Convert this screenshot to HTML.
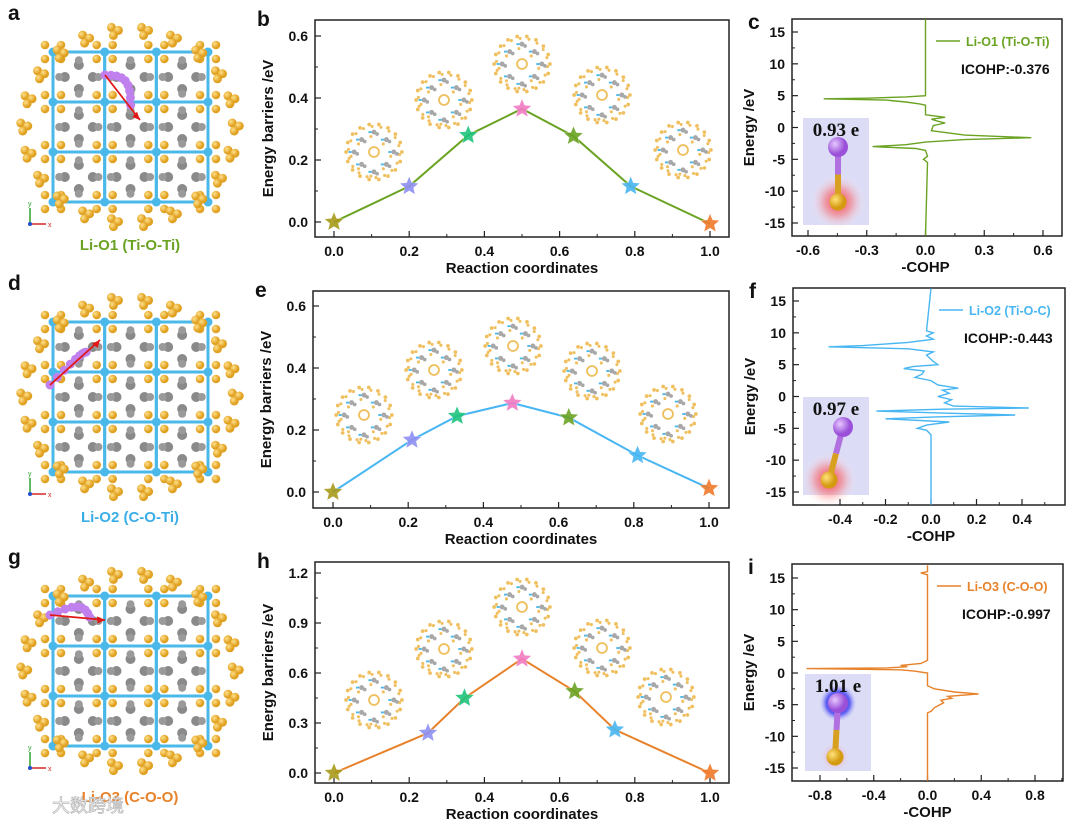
<!DOCTYPE html>
<html><head><meta charset="utf-8"><style>
body{margin:0;background:#fff;}
svg{display:block;font-family:"Liberation Sans",Arial,sans-serif;}
</style></head><body>
<svg id="fig" width="1080" height="826" viewBox="0 0 1080 826">
<defs>
<radialGradient id="redGlow"><stop offset="0" stop-color="#ff2020" stop-opacity="0.9"/><stop offset="0.5" stop-color="#ff6060" stop-opacity="0.45"/><stop offset="1" stop-color="#ffffff" stop-opacity="0"/></radialGradient>
<radialGradient id="blueGlow"><stop offset="0" stop-color="#1010e0" stop-opacity="1"/><stop offset="0.6" stop-color="#3030f0" stop-opacity="0.7"/><stop offset="1" stop-color="#ffffff" stop-opacity="0"/></radialGradient>
<radialGradient id="liBall" cx="0.35" cy="0.35"><stop offset="0" stop-color="#e6c8ff"/><stop offset="1" stop-color="#9a50d8"/></radialGradient>
<radialGradient id="oBall" cx="0.35" cy="0.35"><stop offset="0" stop-color="#ffe27a"/><stop offset="1" stop-color="#d49a10"/></radialGradient>
<radialGradient id="gBall" cx="0.35" cy="0.35"><stop offset="0" stop-color="#ffe08a"/><stop offset="1" stop-color="#e0a020"/></radialGradient>
</defs>
</svg>
<script>
// ---- energy barrier data ----
const coordsB=[0,0.2,0.357,0.5,0.637,0.789,1.0];
const energyB=[0,0.115,0.28,0.365,0.277,0.115,-0.005];
const coordsE=[0,0.21,0.33,0.477,0.627,0.81,1.0];
const energyE=[0,0.168,0.245,0.287,0.24,0.118,0.012];
const coordsH=[0,0.25,0.347,0.5,0.64,0.747,1.0];
const energyH=[0,0.24,0.45,0.685,0.49,0.26,0];
const xTicksEnergy=["0.0","0.2","0.4","0.6","0.8","1.0"];
const yTicksBE=["0.0","0.2","0.4","0.6"];
const yTicksH=["0.0","0.3","0.6","0.9","1.2"];
const starColors=["#a89a1a","#8e90f2","#1fc47c","#f27cc4","#6aa322","#48b6f2","#f07a2a"];
// ---- COHP data ----
const eC=[17,5.0,4.8,4.6,4.5,4.3,4.0,3.7,3.5,2.0,1.6,1.3,1.0,0.7,0.3,-0.5,-1.2,-1.6,-1.9,-2.3,-2.7,-3.0,-3.3,-3.6,-4.5,-5,-5.5,-17];
const cohpC=[0,0,-0.1,-0.3,-0.52,-0.2,-0.1,-0.03,0,0,0.1,0.03,0.06,0.1,0.04,0.03,0.2,0.54,0.2,0.0,-0.1,-0.27,-0.05,0,0.01,-0.01,0.01,0];
const eF=[17,10.3,10,9.5,9,8.5,8.0,7.8,7.5,7.0,6.5,5.5,5,4.7,4.4,4.0,3.5,3.0,2.5,1.8,1.3,1.0,0.5,0,-0.5,-1,-1.5,-1.8,-2.0,-2.3,-2.6,-2.9,-3.2,-3.5,-4.0,-4.5,-5,-5.3,-6,-17];
const cohpF=[0,-0.02,0.01,-0.02,0.01,-0.1,-0.3,-0.45,-0.1,0.01,-0.02,0.01,0.03,-0.08,-0.12,-0.03,-0.04,-0.07,0.0,0.03,0.12,0.05,0.08,0.03,0.09,0.06,0.1,0.43,0.05,-0.24,0.05,0.37,0.02,-0.2,0.08,-0.02,-0.06,-0.02,0.0,0];
const eI=[17,16,15.8,15.5,15,2,1.7,1.5,1.2,1.0,0.8,0.7,0.5,0.3,0,-0.5,-2,-2.5,-3,-3.3,-3.7,-4,-4.3,-4.7,-5.5,-6,-6.3,-17];
const cohpI=[0,0,-0.05,0,0,0,-0.03,-0.05,-0.2,-0.15,-0.3,-0.9,-0.2,-0.1,0,0,0,0.05,0.2,0.38,0.15,0.18,0.1,0.12,0.05,0.03,0,0];
const yTicksCohp=["-15","-10","-5","0","5","10","15"];
const xTicksC=["-0.6","-0.3","0.0","0.3","0.6"];
const xTicksF=["-0.4","-0.2","0.0","0.2","0.4"];
const xTicksI=["-0.8","-0.4","0.0","0.4","0.8"];

const NS="http://www.w3.org/2000/svg";
const svg=document.getElementById('fig');
function el(tag,attrs,parent){const e=document.createElementNS(NS,tag);for(const k in attrs)e.setAttribute(k,attrs[k]);(parent||svg).appendChild(e);return e;}
function txt(s,attrs,parent){const t=el('text',attrs,parent);t.textContent=s;return t;}
function lin(d0,p0,d1,p1){return v=>p0+(v-d0)*(p1-p0)/(d1-d0);}
function starPath(cx,cy,R){const r=R*0.45;let d="";for(let i=0;i<10;i++){const a=-Math.PI/2+i*Math.PI/5;const rr=i%2?r:R;d+=(i?"L":"M")+(cx+rr*Math.cos(a)).toFixed(1)+","+(cy+rr*Math.sin(a)).toFixed(1);}return d+"Z";}

// decorative mini framework thumbnail
function thumb(cx,cy,s,g){
  const R=s*0.45;
  for(let k=0;k<18;k++){const a=k*Math.PI/9;
    el('circle',{cx:cx+R*Math.cos(a),cy:cy+R*Math.sin(a),r:s*0.03,fill:"#f0c060"},g);
    el('circle',{cx:cx+R*0.92*Math.cos(a+0.1),cy:cy+R*0.92*Math.sin(a+0.1),r:s*0.025,fill:"#f0c060"},g);}
  [[-1,-1],[1,-1],[-1,1],[1,1],[0,-1.6],[0,1.6],[-1.6,0],[1.6,0]].forEach(p=>{
    const x=cx+p[0]*s*0.2,y=cy+p[1]*s*0.2;
    el('circle',{cx:x,cy:y,r:s*0.04,fill:"#a8a8a8"},g);
    el('circle',{cx:x+s*0.05,cy:y+s*0.03,r:s*0.03,fill:"#a8a8a8"},g);
    el('rect',{x:x-s*0.09,y:y-s*0.015,width:s*0.05,height:s*0.03,fill:"#4ab8e8"},g);
    el('circle',{cx:x-s*0.05,cy:y+s*0.07,r:s*0.025,fill:"#f0c060"},g);
  });
  el('circle',{cx:cx,cy:cy,r:s*0.08,fill:"none",stroke:"#f0c060","stroke-width":s*0.03},g);
}
// decorative crystal structure
function crystal(x0,y0,w,h,g){
  const cx=x0+w/2,cy=y0+h/2;
  const nodes=[];
  for(let i=0;i<4;i++)for(let j=0;j<4;j++)nodes.push([x0+35+i*(w-70)/3,y0+30+j*(h-60)/3]);
  nodes.forEach(n=>{nodes.forEach(m=>{if((Math.abs(n[0]-m[0])<80&&n[1]===m[1])||(Math.abs(n[1]-m[1])<70&&n[0]===m[0]))el('line',{x1:n[0],y1:n[1],x2:m[0],y2:m[1],stroke:"#4ab8e8","stroke-width":3},g);});});
  for(let i=0;i<3;i++)for(let j=0;j<3;j++){
    const x=x0+35+(i+0.5)*(w-70)/3,y=y0+30+(j+0.5)*(h-60)/3;
    [[-14,0],[14,0],[0,-12],[0,12]].forEach(p=>{
      el('circle',{cx:x+p[0],cy:y+p[1],r:5,fill:"#8a8a8a"},g);
      el('circle',{cx:x+p[0]*1.4,cy:y+p[1]*1.4,r:4,fill:"#9a9a9a"},g);});
  }
  nodes.forEach(n=>{
    el('circle',{cx:n[0],cy:n[1],r:4.5,fill:"#4ab8e8"},g);
    [[-8,-7],[8,-7],[-8,7],[8,7]].forEach(p=>el('circle',{cx:n[0]+p[0],cy:n[1]+p[1],r:4.3,fill:"url(#gBall)"},g));
  });
  for(let k=0;k<22;k++){const a=k*Math.PI*2/22;
    const x=cx+w*0.47*Math.cos(a),y=cy+h*0.46*Math.sin(a);
    [[0,0],[7,3],[2,8]].forEach(p=>el('circle',{cx:x+p[0]-4,cy:y+p[1]-4,r:4.5,fill:"url(#gBall)"},g));}
  const ax=x0+12,ay=y0+h-8;
  el('line',{x1:ax,y1:ay,x2:ax,y2:ay-16,stroke:"#2ca02c","stroke-width":1.5},g);
  el('line',{x1:ax,y1:ay,x2:ax+16,y2:ay,stroke:"#d62728","stroke-width":1.5},g);
  el('circle',{cx:ax,cy:ay,r:2,fill:"#2050d0"},g);
  txt("y",{x:ax-2,y:ay-18,"font-size":7,fill:"#2ca02c"},g);
  txt("x",{x:ax+18,y:ay+3,"font-size":7,fill:"#d62728"},g);
}

function energyPanel(o){
  const g=el('g',{});
  
  
  const sx=lin(0,o.x0,1,o.x1), sy=lin(0,o.y0,o.ymaxTick,o.yTop);
  el('rect',{x:o.L,y:o.T,width:o.R-o.L,height:o.B-o.T,fill:"none",stroke:"#222","stroke-width":1.5},g);
  o.thumbs.forEach(t=>thumb(t[0],t[1],62,g));
  xTicksEnergy.forEach((t,i)=>{const v=parseFloat(t),x=sx(v);
    el('line',{x1:x,y1:o.B,x2:x,y2:o.B-6,stroke:"#222","stroke-width":1.2},g);
    const xm=sx(v+0.1); if(v<1) el('line',{x1:xm,y1:o.B,x2:xm,y2:o.B-3,stroke:"#222","stroke-width":1},g);
    const tl=txt(t,{x:x,y:o.B+19,"font-size":14,"font-weight":"bold","text-anchor":"middle",fill:"#111"},g);
    });
  o.yTicks.forEach((t,i)=>{const v=parseFloat(t),y=sy(v);
    el('line',{x1:o.L,y1:y,x2:o.L+6,y2:y,stroke:"#222","stroke-width":1.2},g);
    const ym=sy(v+o.step/2); if(i<o.yTicks.length-1) el('line',{x1:o.L,y1:ym,x2:o.L+3,y2:ym,stroke:"#222","stroke-width":1},g);
    const tl=txt(t,{x:o.L-7,y:y+5,"font-size":14,"font-weight":"bold","text-anchor":"end",fill:"#111"},g);
    });
  const xt=txt("Reaction coordinates",{x:(o.L+o.R)/2,y:o.B+36,"font-size":15,"font-weight":"bold","text-anchor":"middle",fill:"#111"},g);
  
  const yt=txt("Energy barriers /eV",{x:0,y:0,"font-size":15,"font-weight":"bold","text-anchor":"middle",fill:"#111",transform:`translate(${o.L-42},${(o.T+o.B)/2}) rotate(-90)`},g);
  
  const pl=txt(o.letter,{x:o.L-58,y:o.T+6,"font-size":21,"font-weight":"bold",fill:"#111"},g);
  
  const pts=o.xs.map((x,i)=>sx(x).toFixed(1)+","+sy(o.ys[i]).toFixed(1)).join(" ");
  const line=el('polyline',{points:pts,fill:"none",stroke:o.color,"stroke-width":2},g);
  
  o.xs.forEach((x,i)=>{const s=el('path',{d:starPath(sx(x),sy(o.ys[i]),10),fill:starColors[i],stroke:"#fff","stroke-width":0.3,opacity:0.9},g);
    });
}
function cohpPanel(o){
  const g=el('g',{});
  
  
  const sx=lin(o.xa,o.xpa,o.xb,o.xpb), sy=lin(15,o.y15,-15,o.ym15);
  el('rect',{x:o.L,y:o.T,width:o.R-o.L,height:o.B-o.T,fill:"none",stroke:"#222","stroke-width":1.5},g);
  const ins=el('g',{},g);
  el('rect',{x:o.ix,y:o.iy,width:66,height:o.ih,fill:"#dcdcf6"},ins);
  if(o.blue) el('circle',{cx:o.li[0],cy:o.li[1],r:20,fill:"url(#blueGlow)"},ins);
  el('circle',{cx:o.ox[0],cy:o.ox[1],r:o.blue?16:28,fill:"url(#redGlow)",opacity:o.blue?0.4:1},ins);
  el('line',{x1:o.li[0],y1:o.li[1],x2:(o.li[0]+o.ox[0])/2,y2:(o.li[1]+o.ox[1])/2,stroke:"#b070e0","stroke-width":6},ins);
  el('line',{x1:(o.li[0]+o.ox[0])/2,y1:(o.li[1]+o.ox[1])/2,x2:o.ox[0],y2:o.ox[1],stroke:"#d8a020","stroke-width":6},ins);
  el('circle',{cx:o.li[0],cy:o.li[1],r:10,fill:"url(#liBall)"},ins);
  el('circle',{cx:o.ox[0],cy:o.ox[1],r:8.5,fill:"url(#oBall)"},ins);
  txt(o.charge,{x:o.ix+33,y:o.iy+18,"font-size":19,"font-weight":"bold","text-anchor":"middle","font-family":"Liberation Serif,serif",fill:"#111"},ins);
  o.xt.forEach(t=>{const v=parseFloat(t),x=sx(v);
    el('line',{x1:x,y1:o.B,x2:x,y2:o.B-6,stroke:"#222","stroke-width":1.2},g);
    const xm=sx(v+o.minor); if(xm<o.R) el('line',{x1:xm,y1:o.B,x2:xm,y2:o.B-3,stroke:"#222","stroke-width":1},g);
    const tl=txt(t,{x:x,y:o.B+19,"font-size":14,"font-weight":"bold","text-anchor":"middle",fill:"#111"},g);
    });
  yTicksCohp.forEach((t,i)=>{const v=parseFloat(t),y=sy(v);
    el('line',{x1:o.L,y1:y,x2:o.L+6,y2:y,stroke:"#222","stroke-width":1.2},g);
    if(i<6){const ym=sy(v+2.5);el('line',{x1:o.L,y1:ym,x2:o.L+3,y2:ym,stroke:"#222","stroke-width":1},g);}
    const tl=txt(t,{x:o.L-7,y:y+5,"font-size":14,"font-weight":"bold","text-anchor":"end",fill:"#111"},g);
    });
  const xtt=txt("-COHP",{x:sx(0),y:o.B+36,"font-size":15,"font-weight":"bold","text-anchor":"middle",fill:"#111"},g);
  
  const ytt=txt("Energy /eV",{x:0,y:0,"font-size":15,"font-weight":"bold","text-anchor":"middle",fill:"#111",transform:`translate(${o.L-38},${(o.T+o.B)/2}) rotate(-90)`},g);
  
  const pl=txt(o.letter,{x:o.L-44,y:o.T+10,"font-size":21,"font-weight":"bold",fill:"#111"},g);
  
  const pts=o.es.map((e,i)=>sx(o.vs[i]).toFixed(1)+","+Math.max(o.T,Math.min(o.B,sy(e))).toFixed(1)).join(" ");
  const cl=el('polyline',{points:pts,fill:"none",stroke:o.color,"stroke-width":1.4},g);
  
  const lg=el('g',{},g);
  el('line',{x1:o.R-126,y1:o.T+22,x2:o.R-102,y2:o.T+22,stroke:o.color,"stroke-width":1.5},lg);
  txt(o.legend,{x:o.R-96,y:o.T+27,"font-size":12.5,"font-weight":"bold",fill:o.color},lg);
  const ic=txt(o.icohp,{x:o.R-101,y:o.T+55,"font-size":14,"font-weight":"bold",fill:"#111"},g);
  
}

[[18,22,"Li-O1 (Ti-O-Ti)","#6aa322","a",[[105,75],[140,120]],250],[18,292,"Li-O2 (C-O-Ti)","#3aaee6","d",[[50,385],[100,340]],522],[18,566,"Li-O3 (C-O-O)","#e8822a","g",[[50,615],[105,620]],802]].forEach((p,idx)=>{
  const g=el('g',{});
  crystal(p[0],p[1],225,210,g);
  for(let k=0;k<9;k++){const t=k/8;el('circle',{cx:p[5][0][0]+(p[5][1][0]-p[5][0][0])*t*0.7+Math.sin(t*3)*8,cy:p[5][0][1]+(p[5][1][1]-p[5][0][1])*t*0.7-Math.sin(t*3)*10,r:4.5,fill:"#c080ee"},g);}
  const a=p[5];el('line',{x1:a[0][0],y1:a[0][1],x2:a[1][0],y2:a[1][1],stroke:"#e01818","stroke-width":1.8},g);
  el('path',{d:`M${a[1][0]},${a[1][1]} l-8,-2 l4,-6 z`,fill:"#e01818",transform:`rotate(${Math.atan2(a[1][1]-a[0][1],a[1][0]-a[0][0])*180/Math.PI-45} ${a[1][0]} ${a[1][1]})`},g);
  const lb=txt(p[2],{x:130,y:p[6],"font-size":15,"font-weight":"bold","text-anchor":"middle",fill:p[3]});
  
  const pl=txt(p[4],{x:8,y:p[1]-2,"font-size":21,"font-weight":"bold",fill:"#111"});
  
});

energyPanel({name:"energy-chart-b",letter:"b",L:315,R:729,T:20,B:237,x0:334,x1:710,y0:222,yTop:36,ymaxTick:0.6,yTicks:yTicksBE,step:0.2,xs:coordsB,ys:energyB,color:"#6aa322",
  thumbs:[[374,152],[444,100],[522,64],[602,95],[683,150]]});
energyPanel({name:"energy-chart-e",letter:"e",L:313,R:729,T:291,B:508,x0:333,x1:709,y0:492,yTop:306,ymaxTick:0.6,yTicks:yTicksBE,step:0.2,xs:coordsE,ys:energyE,color:"#48b6f2",
  thumbs:[[364,415],[434,370],[513,346],[592,371],[668,414]]});
energyPanel({name:"energy-chart-h",letter:"h",L:315,R:729,T:562,B:783,x0:334,x1:710,y0:773,yTop:573,ymaxTick:1.2,yTicks:yTicksH,step:0.3,xs:coordsH,ys:energyH,color:"#e8822a",
  thumbs:[[374,700],[444,649],[522,607],[602,648],[666,697]]});

cohpPanel({name:"cohp-chart-c",letter:"c",L:792,R:1062,T:19,B:236,xa:-0.6,xpa:808,xb:0.6,xpb:1043,y15:32,ym15:223,xt:xTicksC,minor:0.15,es:eC,vs:cohpC,color:"#6aa322",legend:"Li-O1 (Ti-O-Ti)",icohp:"ICOHP:-0.376",ix:803,iy:118,ih:107,charge:"0.93 e",li:[838,147],ox:[838,202],blue:false});
cohpPanel({name:"cohp-chart-f",letter:"f",L:793,R:1065,T:288,B:505,xa:-0.4,xpa:840,xb:0.4,xpb:1022,y15:301,ym15:492,xt:xTicksF,minor:0.1,es:eF,vs:cohpF,color:"#48b6f2",legend:"Li-O2 (Ti-O-C)",icohp:"ICOHP:-0.443",ix:803,iy:397,ih:98,charge:"0.97 e",li:[843,427],ox:[829,480],blue:false});
cohpPanel({name:"cohp-chart-i",letter:"i",L:792,R:1063,T:564,B:781,xa:-0.8,xpa:820,xb:0.8,xpb:1035,y15:578,ym15:768,xt:xTicksI,minor:0.2,es:eI,vs:cohpI,color:"#e8822a",legend:"Li-O3 (C-O-O)",icohp:"ICOHP:-0.997",ix:805,iy:674,ih:97,charge:"1.01 e",li:[838,703],ox:[835,757],blue:true});

const wm=txt("大数跨境",{x:52,y:812,"font-size":18,fill:"#ffffff",stroke:"#bbbbbb","stroke-width":0.8,"font-family":"Liberation Sans,Noto Sans CJK SC,sans-serif"});


</script>
</body></html>
